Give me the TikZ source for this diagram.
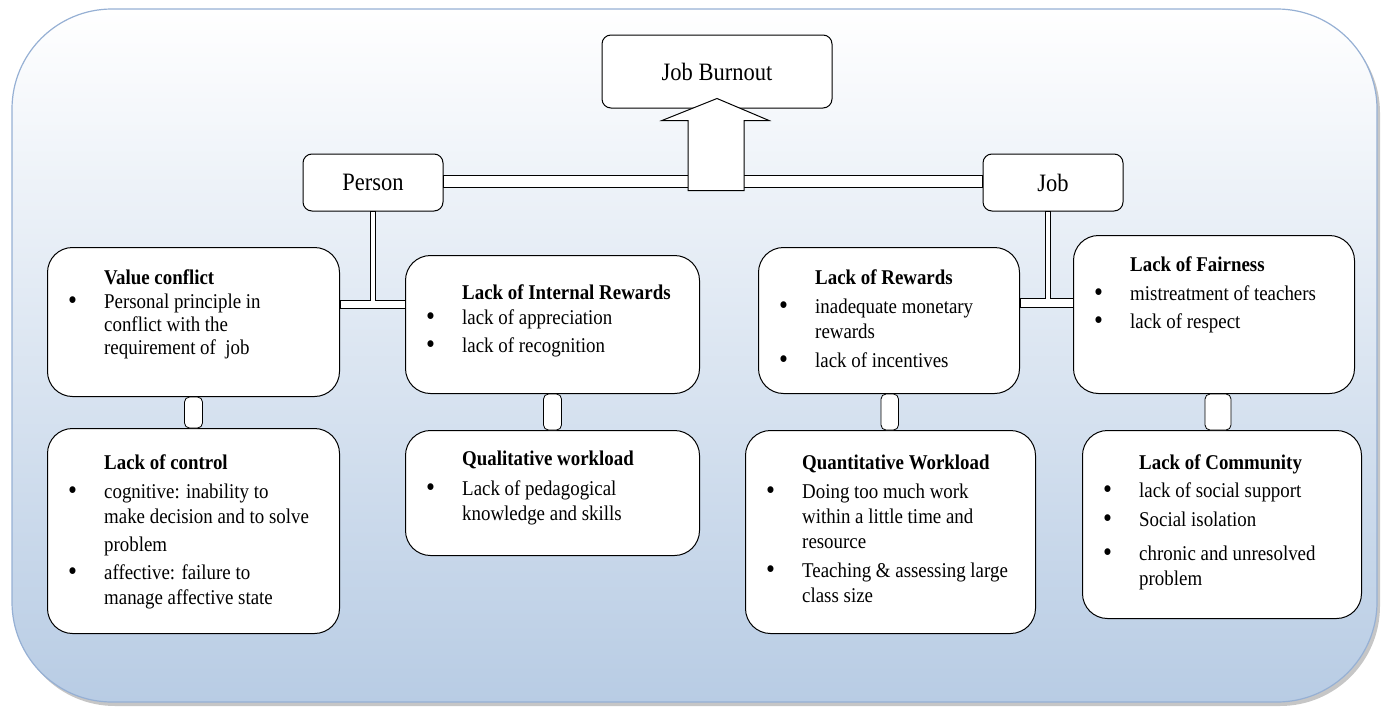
\documentclass[tikz,border=0pt]{standalone}
\usepackage{fontspec}
\setmainfont{Liberation Serif}[FakeStretch=0.9]
\usetikzlibrary{calc}
\definecolor{bgbot}{RGB}{184,204,228}
\definecolor{bgedge}{RGB}{150,176,212}
\newcommand\tbul{\makebox[36pt][l]{\raisebox{-0.5pt}{\scalebox{1.35}{\textbullet}}}}
\newcommand\tind{\hspace*{36pt}}
\begin{document}
\begin{tikzpicture}[x=1pt,y=-1pt,
  box/.style={draw=black, line width=1pt, fill=white, rounded corners=25pt, anchor=north west, inner sep=0pt},
  sbox/.style={draw=black, line width=1pt, fill=white, rounded corners=9pt, inner sep=0pt, font=\fontsize{25}{30}\selectfont},
  txt/.style={anchor=north west, align=left, inner sep=0pt, font=\fontsize{21}{25}\selectfont},
  link/.style={draw=black, line width=0.8pt, fill=white},
  bigarrow/.style={draw=black, line width=1pt, fill=white, line join=miter},
  ]
\useasboundingbox (0,0) rectangle (1382,707);
\fill[gray!45, rounded corners=100pt] (15,13) rectangle (1380,706);
\draw[bgedge, line width=1.2pt, top color=white, bottom color=bgbot, rounded corners=100pt] (12,9) rectangle (1377,702);

% top level nodes
\node[sbox, minimum width=230pt, minimum height=73pt] (jb) at (717,71.5) {Job Burnout};
\node[sbox, minimum width=140pt, minimum height=57pt] (person) at (373,182.5) {Person};
\node[sbox, minimum width=140pt, minimum height=57pt] (job) at (1053,182.5) {Job};

% factor boxes
\node[box, minimum width=292pt, minimum height=149pt] (vc) at (47,247) {};
\node[box, minimum width=294pt, minimum height=138pt] (lir) at (405,255) {};
\node[box, minimum width=261pt, minimum height=146pt] (lr) at (758,247) {};
\node[box, minimum width=281pt, minimum height=158pt] (lf) at (1073,235) {};
\node[box, minimum width=292pt, minimum height=205pt] (lc) at (47,428) {};
\node[box, minimum width=294pt, minimum height=125pt] (qlw) at (405,430) {};
\node[box, minimum width=290pt, minimum height=203pt] (qtw) at (745,430) {};
\node[box, minimum width=279pt, minimum height=188pt] (lcm) at (1082,430) {};

% helper levels
\coordinate (barA) at (0,175);
\coordinate (barB) at (0,187);
\coordinate (hA) at (0,300);
\coordinate (hB) at (0,308);
\coordinate (kA) at (0,298);
\coordinate (kB) at (0,307);

% top double bar
\draw[link] (person.east |- barA) rectangle (job.west |- barB);

% big hollow arrow into Job Burnout
\draw[bigarrow] ([xshift=-29pt,yshift=-82pt]jb.south) -- ++(0,-70) -- ++(-26,0) -- ++(55,-22) -- ++(52,22) -- ++(-25,0) -- ++(0,70) -- cycle;

% Person T connector
\draw[link] (vc.east |- hA) -- ([xshift=-2.5pt]person.south |- hA) -- ([xshift=-2.5pt]person.south) -- ([xshift=2.5pt]person.south) -- ([xshift=2.5pt]person.south |- hA) -- (lir.west |- hA) -- (lir.west |- hB) -- (vc.east |- hB) -- cycle;

% Job T connector
\draw[link] (lr.east |- kA) -- ([xshift=-7.5pt]job.south |- kA) -- ([xshift=-7.5pt]job.south) -- ([xshift=-2.5pt]job.south) -- ([xshift=-2.5pt]job.south |- kA) -- (lf.west |- kA) -- (lf.west |- kB) -- (lr.east |- kB) -- cycle;

% small vertical links
\draw[link, rounded corners=5pt] ([xshift=-9pt]vc.south) rectangle ([xshift=9pt]lc.north);
\draw[link, rounded corners=5pt] ([xshift=-9pt]lir.south) rectangle ([xshift=9pt]qlw.north);
\draw[link, rounded corners=5pt] ([xshift=-8pt]lr.south) rectangle ([xshift=8pt]qtw.north);
\draw[link, rounded corners=5pt] ([xshift=-9pt]lf.south) rectangle ([xshift=9pt]lcm.north);

% texts
\node[txt, font=\fontsize{21}{23}\selectfont] (vct) at ([shift={(21,23)}]vc.north west) {\tind\textbf{Value conflict}\\[1pt]
\tbul Personal principle in\\ \tind conflict with the\\ \tind requirement of\ \ job};
\node[txt] (lirt) at ([shift={(21,30)}]lir.north west) {\tind\textbf{Lack of Internal Rewards}\\
\tbul lack of appreciation\\[3pt] \tbul lack of recognition};
\node[txt] (lrt) at ([shift={(21,23)}]lr.north west) {\tind\textbf{Lack of Rewards}\\[4pt]
\tbul inadequate monetary\\ \tind rewards\\[4pt] \tbul lack of incentives};
\node[txt] (lft) at ([shift={(21,22)}]lf.north west) {\tind\textbf{Lack of Fairness}\\[4pt]
\tbul mistreatment of teachers\\[3pt] \tbul lack of respect};
\node[txt] (lct) at ([shift={(21,27)}]lc.north west) {\tind\textbf{Lack of control}\\[4pt]
\tbul cognitive: inability to\\ \tind make decision and to solve\\[3pt] \tind problem\\[3pt]
\tbul affective: failure to\\ \tind manage affective state};
\node[txt] (qlwt) at ([shift={(21,21)}]qlw.north west) {\tind\textbf{Qualitative workload}\\[5pt]
\tbul Lack of pedagogical\\ \tind knowledge and skills};
\node[txt] (qtwt) at ([shift={(21,25)}]qtw.north west) {\tind\textbf{Quantitative Workload}\\[4pt]
\tbul Doing too much work\\ \tind within a little time and\\ \tind resource\\[4pt]
\tbul Teaching \& assessing large\\ \tind class size};
\node[txt] (lcmt) at ([shift={(21,25)}]lcm.north west) {\tind\textbf{Lack of Community}\\[3pt]
\tbul lack of social support\\[4pt] \tbul Social isolation\\[9pt]
\tbul chronic and unresolved\\ \tind problem};
\end{tikzpicture}
\end{document}
